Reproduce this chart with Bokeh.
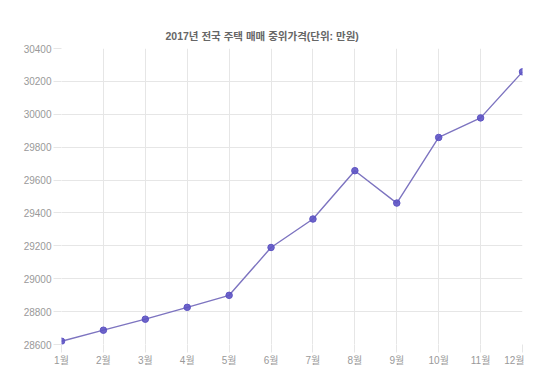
from bokeh.plotting import figure
from bokeh.models import Range1d, FixedTicker
from bokeh.embed import file_html
from bokeh.resources import INLINE

months = ["1월", "2월", "3월", "4월", "5월", "6월", "7월", "8월", "9월", "10월", "11월", "12월"]
prices = [28620, 28687, 28754, 28826, 28899, 29190, 29363, 29657, 29460, 29859, 29978, 30258]
y_ticks = [28600, 28800, 29000, 29200, 29400, 29600, 29800, 30000, 30200, 30400]
title_text = "2017년 전국 주택 매매 중위가격(단위: 만원)"

FONT = "Liberation Sans, Arial, Noto Sans CJK KR, sans-serif"
GRID = "#e6e6e6"
x = list(range(1, len(months) + 1))

p = figure(width=524, height=372, output_backend="svg", toolbar_location=None,
           x_range=Range1d(1, 12), y_range=Range1d(28600, 30400),
           min_border_left=61, min_border_right=2, min_border_top=48, min_border_bottom=28)

p.title.text = title_text
p.title.align = "left"
p.title.offset = 104
p.title.text_font = FONT
p.title.text_font_size = "10.5px"
p.title.text_font_style = "bold"
p.title.text_color = "#666666"
p.title.standoff = 13

p.line(x, prices, line_color="#7d74c0", line_width=1.4)
p.scatter(x, prices, size=6.5, fill_color="#5e54c4", line_color="#5e54c4", fill_alpha=0.9)

p.xaxis.ticker = FixedTicker(ticks=x)
p.xaxis.major_label_overrides = {i: m for i, m in zip(x, months)}
p.yaxis.ticker = FixedTicker(ticks=y_ticks)

for ax in (p.xaxis[0], p.yaxis[0]):
    ax.axis_line_color = None
    ax.major_tick_line_color = GRID
    ax.major_tick_in = 0
    ax.major_tick_out = 8
    ax.minor_tick_line_color = None
    ax.major_label_text_font = FONT
    ax.major_label_text_font_size = "10px"
    ax.major_label_text_color = "#999999"
    ax.major_label_standoff = 2

p.xgrid.grid_line_color = GRID
p.ygrid.grid_line_color = GRID
p.outline_line_color = None

open("out.html", "w").write(file_html(p, INLINE))
